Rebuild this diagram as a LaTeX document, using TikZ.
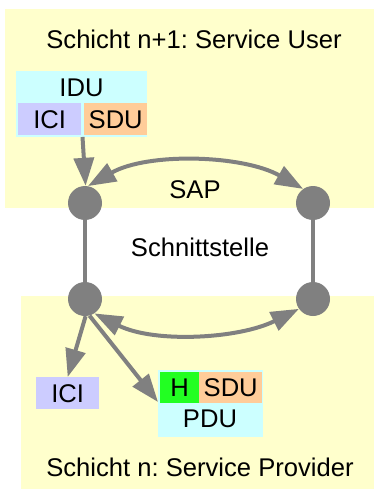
\documentclass[tikz,border=0pt]{standalone}
\usepackage{fontspec}
\setmainfont{Liberation Sans}
\frenchspacing
\usetikzlibrary{arrows.meta}
\definecolor{layeryellow}{HTML}{FFFFCC}
\definecolor{unitcyan}{HTML}{CCFFFF}
\definecolor{icilav}{HTML}{CCCCFF}
\definecolor{sdupeach}{HTML}{FFCC99}
\definecolor{hgreen}{HTML}{22FF22}
\definecolor{linegray}{HTML}{808080}
\begin{document}
\begin{tikzpicture}[x=1pt,y=-1pt,
  every node/.style={font=\fontsize{25.6}{30}\selectfont, inner sep=0pt},
  sapdot/.style={circle, fill=linegray, minimum size=34pt},
  field/.style={anchor=north west},
  arr/.style={draw=linegray, line width=4pt, -{Triangle[length=28pt,width=20pt]}},
  dblarr/.style={draw=linegray, line width=4pt, {Triangle[length=28pt,width=20pt]}-{Triangle[length=28pt,width=20pt]}},
  link/.style={draw=linegray, line width=4pt}]
\useasboundingbox (0,0) rectangle (374,489);
\fill[white] (0,0) rectangle (374,489);

% layer backgrounds
\fill[layeryellow] (5,9) rectangle (374,208);
\fill[layeryellow] (21,296) rectangle (374,489);

% layer titles and labels
\node (top) at (194,39) {Schicht n+1: Service User};
\node (bottom) at (200,467) {Schicht n: Service Provider};
\node (sap) at (195,190) {SAP};
\node (iface) at (200,247) {Schnittstelle};

% IDU in the upper layer
\node[field, fill=unitcyan, minimum width=131pt, minimum height=66pt] (idu) at (16,71) {};
\node (idulabel) at (81.5,88) {IDU};
\node[field, fill=icilav, minimum width=63pt, minimum height=32pt] (ici) at (18,103) {};
\node (icilabel) at (ici.center) {ICI};
\node[field, fill=sdupeach, minimum width=63pt, minimum height=32pt] (sdu) at (84,103) {};
\node (sdulabel) at (sdu.center) {SDU};
\coordinate (idugap) at (82.5,137);

% service access points
\node[sapdot] (tl) at (85,203) {};
\node[sapdot] (tr) at (313,203) {};
\node[sapdot] (bl) at (85,299) {};
\node[sapdot] (br) at (313,299) {};

% lower layer units
\node[field, fill=icilav, minimum width=63pt, minimum height=32pt] (ici2) at (36,377) {};
\node (ici2label) at (ici2.center) {ICI};
\node[field, fill=unitcyan, minimum width=105pt, minimum height=67pt] (pdu) at (158,370) {};
\node[field, fill=hgreen, minimum width=39pt, minimum height=31pt] (hdr) at (160,372) {};
\node (hdrlabel) at (hdr.center) {H};
\node[field, fill=sdupeach, minimum width=63pt, minimum height=31pt] (sdu2) at (199,372) {};
\node (sdu2label) at (sdu2.center) {SDU};
\node (pdulabel) at (210,419) {PDU};
\coordinate (pduin) at (158,402);

% connections
\draw[link] (tl) -- (bl);
\draw[link] (tr) -- (br);
\draw[arr] (idugap) -- (tl.88);
\draw[dblarr] (tl.80) .. controls +(60,-34) and +(-60,-34) .. (tr.125);
\draw[dblarr] (bl.-57) .. controls +(60,30) and +(-60,30) .. (br.215);
\draw[arr] (bl.-88) -- (ici2.north);
\draw[arr] (bl.-75) -- (pduin);
\end{tikzpicture}
\end{document}
